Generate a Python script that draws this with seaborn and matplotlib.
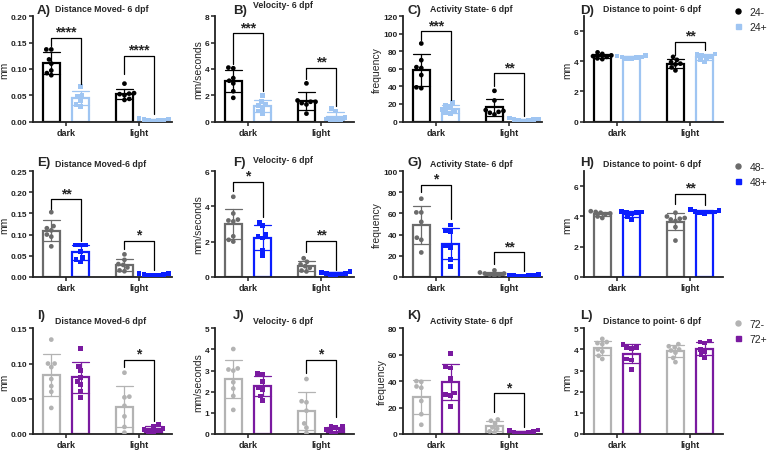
import numpy as np
import pandas as pd
import matplotlib
matplotlib.use('Agg')
import matplotlib.pyplot as plt
import seaborn as sns
from matplotlib.lines import Line2D
from matplotlib.ticker import FormatStrFormatter

sns.set_theme(style='ticks')
plt.rcParams['font.family'] = ['Liberation Sans', 'DejaVu Sans']

conds = ['dark', 'light']
groups_24 = ['24-', '24+']
groups_48 = ['48-', '48+']
groups_72 = ['72-', '72+']

# A) distance moved, 24 h
A_dark_m = [0.137, 0.137, 0.118, 0.110, 0.097, 0.088, 0.092]
A_dark_p = [0.066, 0.050, 0.047, 0.040, 0.032, 0.029]
A_light_m = [0.072, 0.054, 0.053, 0.052, 0.050, 0.043, 0.041]
A_light_p = [0.006, 0.005, 0.004, 0.003, 0.003, 0.002, 0.001]
# B) velocity, 24 h
B_dark_m = [4.1, 4.05, 3.3, 3.1, 2.9, 2.3, 1.8]
B_dark_p = [2.0, 1.5, 1.3, 1.2, 1.0, 0.8, 0.6]
B_light_m = [2.9, 1.6, 1.5, 1.5, 1.4, 1.3, 0.6]
B_light_p = [1.0, 0.8, 0.3, 0.2, 0.15, 0.1, 0.05]
# C) activity state, 24 h
C_dark_m = [89, 70, 62, 61, 53, 39, 38]
C_dark_p = [22, 18, 17, 14, 12, 10, 9]
C_light_m = [35, 24, 13, 12, 11, 10, 8]
C_light_p = [4, 3, 2, 2, 1, 1, 0.5]
# D) distance to point, 24 h
D_dark_m = [4.6, 4.5, 4.4, 4.35, 4.3, 4.2, 4.15]
D_dark_p = [4.4, 4.35, 4.3, 4.3, 4.25, 4.2, 4.15]
D_light_m = [4.3, 4.1, 3.95, 3.85, 3.8, 3.6, 3.4]
D_light_p = [4.5, 4.45, 4.4, 4.3, 4.25, 4.1, 3.95]
# E) distance moved, 48 h
E_dark_m = [0.153, 0.120, 0.115, 0.110, 0.100, 0.095, 0.072]
E_dark_p = [0.075, 0.075, 0.075, 0.060, 0.045, 0.040, 0.035]
E_light_m = [0.053, 0.040, 0.030, 0.028, 0.022, 0.015, 0.013]
E_light_p = [0.008, 0.007, 0.006, 0.005, 0.004, 0.003, 0.002]
# F) velocity, 48 h
F_dark_m = [4.55, 3.6, 3.25, 3.2, 3.15, 2.3, 2.1, 2.0]
F_dark_p = [3.1, 2.9, 2.4, 2.3, 2.2, 1.5, 1.2]
F_light_m = [1.05, 0.85, 0.7, 0.6, 0.5, 0.35, 0.3]
F_light_p = [0.3, 0.25, 0.2, 0.2, 0.15, 0.1, 0.1]
# G) activity state, 48 h
G_dark_m = [74, 61, 61, 52, 37, 35, 23]
G_dark_p = [49, 44, 43, 29, 28, 16, 10]
G_light_m = [6, 4, 3, 3, 2, 2, 1]
G_light_p = [2, 1.5, 1, 1, 0.8, 0.5, 0.3]
# H) distance to point, 48 h
H_dark_m = [4.35, 4.3, 4.25, 4.2, 4.15, 4.0, 3.9]
H_dark_p = [4.35, 4.3, 4.3, 4.25, 4.2, 4.0, 3.8]
H_light_m = [4.25, 4.0, 3.9, 3.85, 3.8, 3.7, 3.3, 2.4]
H_light_p = [4.45, 4.4, 4.35, 4.3, 4.3, 4.25, 4.2]
# I) distance moved, 72 h
I_dark_m = [0.134, 0.100, 0.100, 0.095, 0.078, 0.068, 0.060, 0.037]
I_dark_p = [0.121, 0.096, 0.090, 0.080, 0.075, 0.070, 0.060, 0.052]
I_light_m = [0.087, 0.053, 0.052, 0.040, 0.025, 0.010, 0.002]
I_light_p = [0.013, 0.011, 0.008, 0.006, 0.005, 0.004, 0.003]
# J) velocity, 72 h
J_dark_m = [4.02, 3.1, 3.05, 3.0, 2.45, 2.15, 1.8, 1.14]
J_dark_p = [2.85, 2.8, 2.5, 2.2, 2.1, 1.8, 1.6]
J_light_m = [2.6, 1.55, 1.5, 1.1, 0.5, 0.3, 0.05]
J_light_p = [0.35, 0.35, 0.3, 0.2, 0.15, 0.1, 0.05]
# K) activity state, 72 h
K_dark_m = [40, 39.5, 36, 35, 25, 15, 7]
K_dark_p = [61, 51, 50, 42, 31, 30, 29, 21]
K_light_m = [11, 10, 8, 5, 4, 2, 1]
K_light_p = [3, 2.5, 2, 1.5, 1, 0.5, 0.3]
# L) distance to point, 72 h
L_dark_m = [4.5, 4.35, 4.3, 4.25, 4.0, 3.9, 3.7, 3.55]
L_dark_p = [4.25, 4.1, 4.1, 4.05, 3.55, 3.5, 3.05]
L_light_m = [4.25, 4.15, 4.1, 4.0, 3.95, 3.85, 3.6, 3.4]
L_light_p = [4.4, 4.35, 4.3, 4.0, 3.9, 3.75, 3.6]

titles = ['Distance Moved- 6 dpf', 'Velocity- 6 dpf', 'Activity State- 6 dpf', 'Distance to point- 6 dpf',
          'Distance Moved-6 dpf', 'Velocity- 6 dpf', 'Activity State- 6 dpf', 'Distance to point- 6 dpf',
          'Distance Moved-6 dpf', 'Velocity- 6 dpf', 'Activity State- 6 dpf', 'Distance to point- 6 dpf']
letters = list('ABCDEFGHIJKL')
ylabels = ['mm', 'mm/seconds', 'frequency', 'mm'] * 3

panel_data = [
    (A_dark_m, A_dark_p, A_light_m, A_light_p), (B_dark_m, B_dark_p, B_light_m, B_light_p),
    (C_dark_m, C_dark_p, C_light_m, C_light_p), (D_dark_m, D_dark_p, D_light_m, D_light_p),
    (E_dark_m, E_dark_p, E_light_m, E_light_p), (F_dark_m, F_dark_p, F_light_m, F_light_p),
    (G_dark_m, G_dark_p, G_light_m, G_light_p), (H_dark_m, H_dark_p, H_light_m, H_light_p),
    (I_dark_m, I_dark_p, I_light_m, I_light_p), (J_dark_m, J_dark_p, J_light_m, J_light_p),
    (K_dark_m, K_dark_p, K_light_m, K_light_p), (L_dark_m, L_dark_p, L_light_m, L_light_p),
]

# y axis settings (ylim top, tick step, decimals)
yaxis = [(0.20, 0.05, 2), (8, 2, 0), (120, 20, 0), (7, 2, 0),
         (0.25, 0.05, 2), (6, 2, 0), (100, 20, 0), (7, 2, 0),
         (0.15, 0.05, 2), (5, 1, 0), (80, 20, 0), (5, 1, 0)]

# significance brackets: (condition index, bar top, left end, right end, stars)
brackets = {
    'A': [(0, 0.159, 0.143, 0.071, '****'), (1, 0.125, 0.090, 0.015, '****')],
    'B': [(0, 6.7, 4.36, 2.3, '***'), (1, 4.1, 3.2, 1.17, '**')],
    'C': [(0, 103, 93, 25, '***'), (1, 55, 40, 6, '**')],
    'D': [(1, 5.3, 4.45, 4.78, '**')],
    'E': [(0, 0.184, 0.161, 0.085, '**'), (1, 0.085, 0.066, 0.016, '*')],
    'F': [(0, 5.41, 4.9, 3.38, '*'), (1, 2.05, 1.39, 0.4, '**')],
    'G': [(0, 87, 80, 55, '*'), (1, 23, 12, 5.7, '**')],
    'H': [(1, 5.5, 4.84, 4.73, '**')],
    'I': [(1, 0.105, 0.095, 0.019, '*')],
    'J': [(1, 3.5, 2.89, 0.79, '*')],
    'K': [(1, 30.8, 16.4, 5, '*')],
    'L': [],
}

row_groups = [groups_24, groups_48, groups_72]
row_colors = [['#000000', '#9fc5f2'], ['#6b6b6b', '#0a1eff'], ['#b3b3b3', '#7a1aa0']]
markers = ['o', 's']

W, H = 767, 452
fig = plt.figure(figsize=(W / 100, H / 100), dpi=100)

col_left = [33, 215, 403, 584]
ax_w = 139
row_tb = [(17.3, 122.5), (172.3, 277.7), (329.3, 435)]
letter_x = [37, 233, 407, 580]
title_x = [55, 253, 430, 603]
row_letter_y = [11, 163, 316]
row_title_y = [10, 165, 321]

off = 0.2

for k in range(12):
    r, c = divmod(k, 4)
    top, bot = row_tb[r]
    l = col_left[c]
    ax = fig.add_axes([l / W, 1 - bot / H, ax_w / W, (bot - top) / H])
    grps = row_groups[r]
    cols = row_colors[r]
    dm, dp, lm, lp = panel_data[k]
    rows = []
    for cond, g, vals in [('dark', grps[0], dm), ('dark', grps[1], dp),
                          ('light', grps[0], lm), ('light', grps[1], lp)]:
        rows += [(cond, g, v) for v in vals]
    df = pd.DataFrame(rows, columns=['cond', 'grp', 'val'])
    pal = dict(zip(grps, cols))

    sns.barplot(data=df, x='cond', y='val', hue='grp', order=conds, hue_order=grps,
                palette=pal, fill=False, width=0.8, gap=0.4, linewidth=1.6,
                errorbar='sd', capsize=0.45, err_kws={'linewidth': 0.9},
                legend=False, ax=ax)
    for g, mk in zip(grps, markers):
        sns.swarmplot(data=df[df.grp == g], x='cond', y='val', hue='grp', order=conds,
                      hue_order=grps, palette=pal, dodge=True,
                      marker=mk, size=3.4, linewidth=0, legend=False, ax=ax, zorder=3)

    ytop, step, dec = yaxis[k]
    ax.set_ylim(0, ytop)
    ax.set_yticks(np.arange(0, ytop + step / 2, step))
    ax.yaxis.set_major_formatter(FormatStrFormatter('%.' + str(dec) + 'f'))
    ax.set_xlim(-0.45, 1.45)
    ax.set_xlabel('')
    ax.set_ylabel(ylabels[k], fontsize=7.5, labelpad=1)
    sns.despine(ax=ax)
    for s in ['left', 'bottom']:
        ax.spines[s].set_linewidth(1.3)
        ax.spines[s].set_color('#222222')
    ax.tick_params(axis='both', length=3, width=1.1, pad=1, labelsize=6, colors='#222222')
    for lab in ax.get_xticklabels() + ax.get_yticklabels():
        lab.set_fontweight('bold')
    ax.tick_params(axis='x', labelsize=6.5, pad=1.5)

    for ci, yh, yl, yr, stars in brackets[letters[k]]:
        x1, x2 = ci - off, ci + off
        ax.plot([x1, x1, x2, x2], [yl, yh, yh, yr], color='black', lw=0.9, zorder=4)
        ax.annotate(stars, ((x1 + x2) / 2, yh), xytext=(0, 1.5), textcoords='offset points',
                    ha='center', va='baseline', fontsize=10, fontweight='bold')

    fig.text(letter_x[c] / W, 1 - row_letter_y[r] / H, letters[k] + ')', fontsize=9.5,
             fontweight='bold', va='center', ha='left')
    ty = row_title_y[r] - (4 if (c == 1 and r < 2) else 0)
    fig.text(title_x[c] / W, 1 - ty / H, titles[k], fontsize=6.3,
             fontweight='bold', va='center', ha='left')

    if c == 3:
        handles = [Line2D([], [], marker=markers[i], color=cols[i], ls='', markersize=3.6)
                   for i in range(2)]
        ax.legend(handles, grps, loc='upper left', bbox_to_anchor=(1.02, 1.16), frameon=False,
                  fontsize=7.5, handletextpad=0.6, labelspacing=0.5, borderaxespad=0.3,
                  handlelength=1.0)

fig.savefig('out.png', dpi=100, facecolor='white')
